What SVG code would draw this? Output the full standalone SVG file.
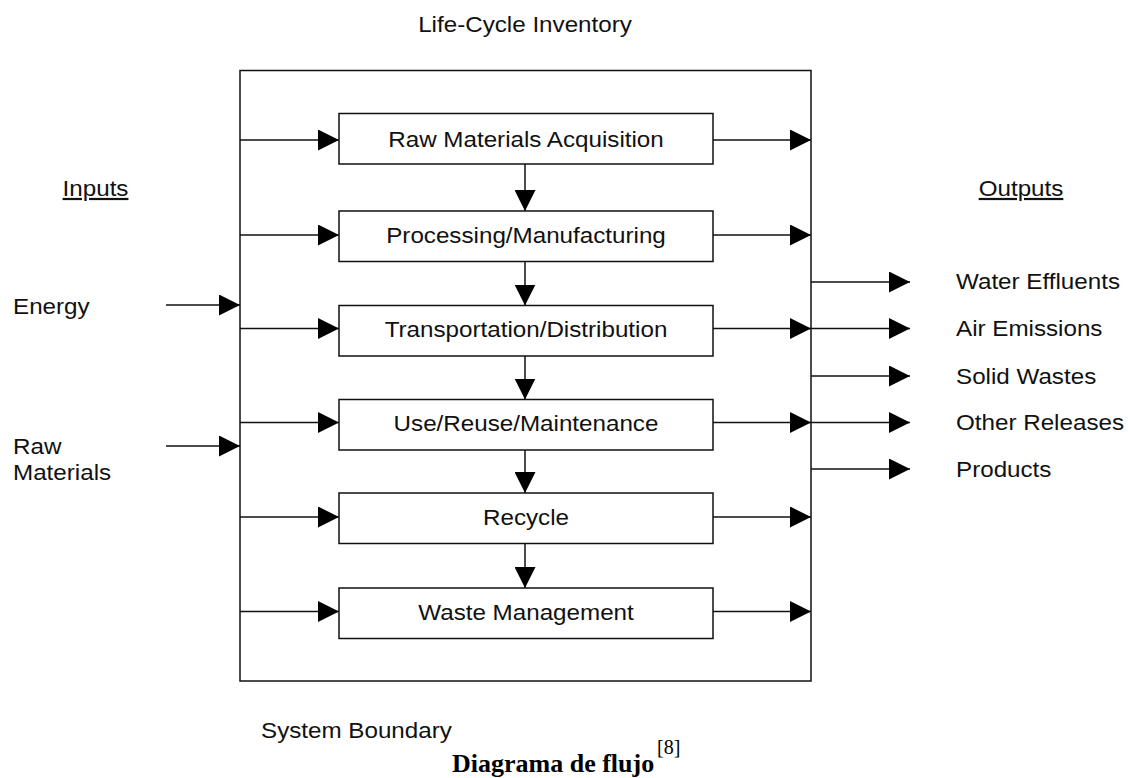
<svg xmlns="http://www.w3.org/2000/svg" width="1130" height="778" viewBox="0 0 1130 778">
<style>
.t{font-family:"Liberation Sans",Arial,sans-serif;font-size:22px;fill:#111}
.m{text-anchor:middle}
.box{fill:#fff;stroke:#111;stroke-width:1.5}
.ln{stroke:#111;stroke-width:1.5;fill:none}
.cap{font-family:"Liberation Serif","Times New Roman",serif;fill:#000}
</style>
<defs>
<marker id="ah" markerUnits="userSpaceOnUse" markerWidth="21" markerHeight="21" refX="20" refY="10" orient="auto" viewBox="0 0 20 20">
<path d="M0,0 L20,10 L0,20 z" fill="#000"/>
</marker>
</defs>
<rect width="1130" height="778" fill="#fff"/>
<g id="title"><text class="t m" transform="translate(525,32) scale(1.1,1)">Life-Cycle Inventory</text></g>
<g id="boundary">
<rect x="240" y="70.5" width="571" height="610.5" class="box" style="fill:none"/>
<text class="t" transform="translate(261,738) scale(1.1,1)">System Boundary</text>
</g>
<g id="connectors">
<line class="ln" x1="240" y1="140" x2="339" y2="140" marker-end="url(#ah)"/>
<line class="ln" x1="240" y1="235" x2="339" y2="235" marker-end="url(#ah)"/>
<line class="ln" x1="240" y1="328.5" x2="339" y2="328.5" marker-end="url(#ah)"/>
<line class="ln" x1="240" y1="422.5" x2="339" y2="422.5" marker-end="url(#ah)"/>
<line class="ln" x1="240" y1="517" x2="339" y2="517" marker-end="url(#ah)"/>
<line class="ln" x1="240" y1="611.5" x2="339" y2="611.5" marker-end="url(#ah)"/>
<line class="ln" x1="713" y1="140" x2="811" y2="140" marker-end="url(#ah)"/>
<line class="ln" x1="713" y1="235" x2="811" y2="235" marker-end="url(#ah)"/>
<line class="ln" x1="713" y1="328.5" x2="811" y2="328.5" marker-end="url(#ah)"/>
<line class="ln" x1="713" y1="422.5" x2="811" y2="422.5" marker-end="url(#ah)"/>
<line class="ln" x1="713" y1="517" x2="811" y2="517" marker-end="url(#ah)"/>
<line class="ln" x1="713" y1="611.5" x2="811" y2="611.5" marker-end="url(#ah)"/>
<line class="ln" x1="525" y1="164" x2="525" y2="211" marker-end="url(#ah)"/>
<line class="ln" x1="525" y1="261.5" x2="525" y2="305.5" marker-end="url(#ah)"/>
<line class="ln" x1="525" y1="356" x2="525" y2="399.5" marker-end="url(#ah)"/>
<line class="ln" x1="525" y1="450" x2="525" y2="493" marker-end="url(#ah)"/>
<line class="ln" x1="525" y1="543.5" x2="525" y2="588" marker-end="url(#ah)"/>
<line class="ln" x1="166" y1="305" x2="240" y2="305" marker-end="url(#ah)"/>
<line class="ln" x1="166" y1="446" x2="240" y2="446" marker-end="url(#ah)"/>
<line class="ln" x1="811" y1="282" x2="910" y2="282" marker-end="url(#ah)"/>
<line class="ln" x1="811" y1="328.5" x2="910" y2="328.5" marker-end="url(#ah)"/>
<line class="ln" x1="811" y1="376" x2="910" y2="376" marker-end="url(#ah)"/>
<line class="ln" x1="811" y1="422.5" x2="910" y2="422.5" marker-end="url(#ah)"/>
<line class="ln" x1="811" y1="469" x2="910" y2="469" marker-end="url(#ah)"/>
</g>
<g id="n1"><rect class="box" x="339" y="113.5" width="374" height="50.5"/><text class="t m" transform="translate(526,147) scale(1.1,1)">Raw Materials Acquisition</text></g>
<g id="n2"><rect class="box" x="339" y="211" width="374" height="50.5"/><text class="t m" transform="translate(526,243) scale(1.1,1)">Processing/Manufacturing</text></g>
<g id="n3"><rect class="box" x="339" y="305.5" width="374" height="50.5"/><text class="t m" transform="translate(526,337) scale(1.1,1)">Transportation/Distribution</text></g>
<g id="n4"><rect class="box" x="339" y="399.5" width="374" height="50.5"/><text class="t m" transform="translate(526,431) scale(1.1,1)">Use/Reuse/Maintenance</text></g>
<g id="n5"><rect class="box" x="339" y="493" width="374" height="50.5"/><text class="t m" transform="translate(526,525) scale(1.1,1)">Recycle</text></g>
<g id="n6"><rect class="box" x="339" y="588" width="374" height="50.5"/><text class="t m" transform="translate(526,620) scale(1.1,1)">Waste Management</text></g>
<g id="inputs"><text class="t m" text-decoration="underline" transform="translate(95.5,196) scale(1.1,1)">Inputs</text></g>
<g id="energy"><text class="t" transform="translate(13,314) scale(1.1,1)">Energy</text></g>
<g id="rawmat"><text class="t" transform="translate(13,454) scale(1.1,1)">Raw</text><text class="t" transform="translate(13,480) scale(1.1,1)">Materials</text></g>
<g id="outputs"><text class="t m" text-decoration="underline" transform="translate(1021,196) scale(1.1,1)">Outputs</text></g>
<g id="water"><text class="t" transform="translate(956,289) scale(1.1,1)">Water Effluents</text></g>
<g id="air"><text class="t" transform="translate(956,336) scale(1.1,1)">Air Emissions</text></g>
<g id="solid"><text class="t" transform="translate(956,384) scale(1.1,1)">Solid Wastes</text></g>
<g id="other"><text class="t" transform="translate(956,430) scale(1.1,1)">Other Releases</text></g>
<g id="products"><text class="t" transform="translate(956,477) scale(1.1,1)">Products</text></g>
<g id="caption"><text class="cap" x="452" y="772" font-size="26" font-weight="bold">Diagrama de flujo</text><text class="cap" x="657" y="754" font-size="20">[8]</text></g>
</svg>
